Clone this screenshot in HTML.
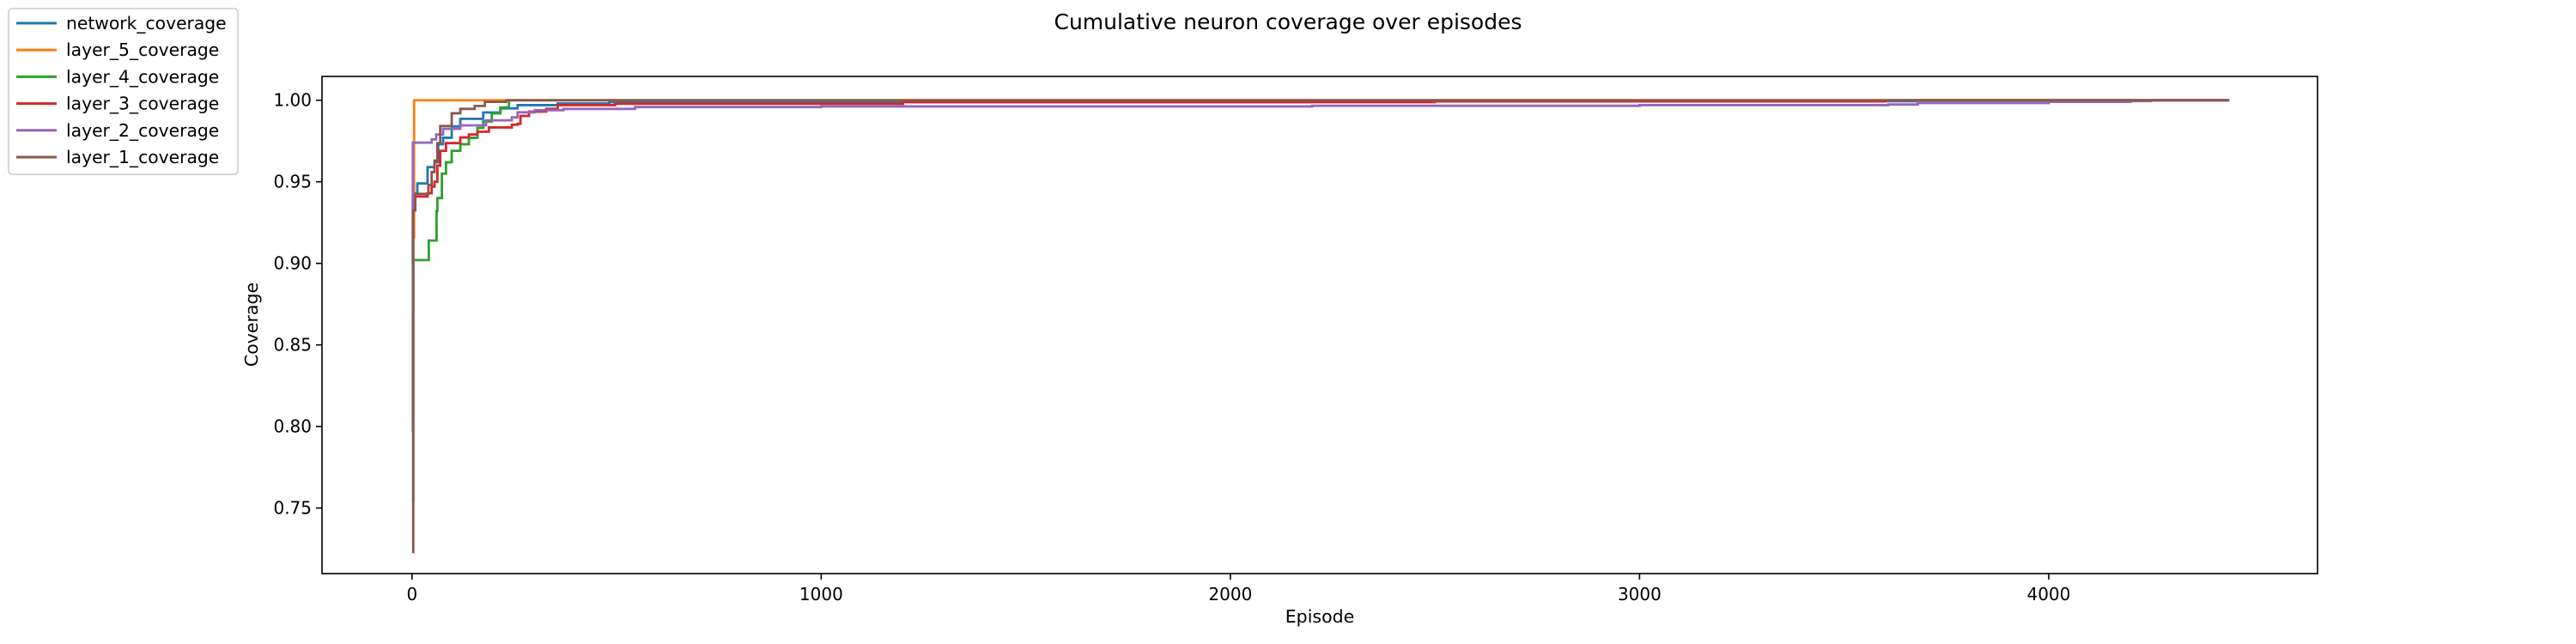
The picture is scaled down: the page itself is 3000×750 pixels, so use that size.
<!DOCTYPE html>
<html><head><meta charset="utf-8"><style>
html,body{margin:0;padding:0;background:#fff;}
svg{display:block;font-family:"DejaVu Sans","Liberation Sans",sans-serif;}
</style></head><body>
<svg id="chart" width="3000" height="750" viewBox="0 0 3000 750">
<text x="1500" y="34" font-size="25" text-anchor="middle">Cumulative neuron coverage over episodes</text>
<g id="plot"></g>
<g id="axes"></g>
<text x="1537" y="725" font-size="20.5" text-anchor="middle">Episode</text>
<text transform="translate(300,378) rotate(-90)" font-size="20.5" text-anchor="middle">Coverage</text>
<g id="legend"></g>
</svg>
<script>
const seriesNames = ["network_coverage","layer_5_coverage","layer_4_coverage","layer_3_coverage","layer_2_coverage","layer_1_coverage"];
const seriesColors = ["#1f77b4","#ff7f0e","#2ca02c","#d62728","#9467bd","#8c564b"];
const xTicks = [0,1000,2000,3000,4000];
const yTicks = [0.75,0.80,0.85,0.90,0.95,1.00];
const yTickLabels = ["0.75","0.80","0.85","0.90","0.95","1.00"];
const networkX = [0,3,13,38,55,64,76,97,118,174,216,258,356,482,1200,2400,3676,4441];
const networkY = [0.755,0.943,0.949,0.959,0.962,0.973,0.977,0.984,0.9886,0.9925,0.9950,0.9970,0.9980,0.9988,0.9992,0.9994,1.0,1.0];
const layer5X = [0,5,4441];
const layer5Y = [0.916,1.0,1.0];
const layer4X = [0,3,41,60,62,73,83,97,118,139,160,174,195,216,237,4441];
const layer4Y = [0.870,0.902,0.914,0.932,0.940,0.955,0.962,0.969,0.973,0.977,0.983,0.987,0.992,0.9956,1.0,1.0];
const layer3X = [0,2,38,48,55,62,69,83,118,139,160,188,244,258,265,286,328,356,496,1200,2500,3600,4441];
const layer3Y = [0.900,0.941,0.943,0.947,0.950,0.960,0.969,0.9737,0.9772,0.979,0.9807,0.9833,0.985,0.9855,0.9904,0.993,0.9947,0.9970,0.9978,0.9988,0.9993,1.0,1.0];
const layer2X = [0,2,48,59,76,118,181,244,258,300,370,545,1000,2200,3000,3608,3680,4000,4200,4250,4441];
const layer2Y = [0.797,0.974,0.976,0.979,0.9825,0.9846,0.9877,0.9895,0.9926,0.9939,0.9947,0.9958,0.9962,0.9966,0.9970,0.9974,0.9983,0.9990,0.9995,1.0,1.0];
const layer1X = [0,3,8,38,40,48,55,62,69,97,118,153,178,230,4441];
const layer1Y = [0.723,0.9325,0.9426,0.9426,0.948,0.956,0.963,0.9737,0.9842,0.992,0.9947,0.9965,0.999,1.0,1.0];
const seriesX = [networkX,layer5X,layer4X,layer3X,layer2X,layer1X];
const seriesY = [networkY,layer5Y,layer4Y,layer3Y,layer2Y,layer1Y];

const L=375,R=2699,T=89,B=668;
const xMin=-220,xMax=4657,yMin=0.7098,yMax=1.0146;
function sx(v){return L+(v-xMin)/(xMax-xMin)*(R-L);}
function sy(v){return B-(v-yMin)/(yMax-yMin)*(B-T);}
const NS="http://www.w3.org/2000/svg";
function mk(tag,attrs,parent){const e=document.createElementNS(NS,tag);for(const k in attrs)e.setAttribute(k,attrs[k]);parent.appendChild(e);return e;}

const plot=document.getElementById('plot');
const axes=document.getElementById('axes');
for(let s=0;s<seriesNames.length;s++){
  const xs=seriesX[s],ys=seriesY[s];
  let d="M"+sx(xs[0]).toFixed(2)+" "+sy(ys[0]).toFixed(2);
  for(let i=1;i<xs.length;i++){d+=" H"+sx(xs[i]).toFixed(2)+" V"+sy(ys[i]).toFixed(2);}
  const p=mk('path',{d:d,fill:"none",stroke:seriesColors[s],"stroke-width":"2.8","stroke-linejoin":"miter"},plot);
  
  
}
const frame=mk('rect',{x:L,y:T,width:R-L,height:B-T,fill:"none",stroke:"#000","stroke-width":"1.6"},axes);


for(let i=0;i<xTicks.length;i++){
  const x=sx(xTicks[i]);
  const t=mk('line',{x1:x,x2:x,y1:B,y2:B+7,stroke:"#000","stroke-width":"1.6"},axes);
  
  
  const lb=mk('text',{x:x,y:B+31,"font-size":"20","text-anchor":"middle"},axes);
  lb.textContent=String(xTicks[i]);
  
  
}
for(let i=0;i<yTicks.length;i++){
  const y=sy(yTicks[i]);
  const t=mk('line',{x1:L-7,x2:L,y1:y,y2:y,stroke:"#000","stroke-width":"1.6"},axes);
  
  
  const lb=mk('text',{x:L-12,y:y+7,"font-size":"20","text-anchor":"end"},axes);
  lb.textContent=yTickLabels[i];
  
  
}
const lg=document.getElementById('legend');
const box=mk('rect',{x:10,y:10,width:267,height:193,rx:4,fill:"#fff","fill-opacity":"0.8",stroke:"#ccc","stroke-width":"1.5"},lg);


for(let s=0;s<seriesNames.length;s++){
  const y=27+s*31.2;
  const ln=mk('line',{x1:19,x2:66,y1:y,y2:y,stroke:seriesColors[s],"stroke-width":"3"},lg);
  
  
  const tx=mk('text',{x:77,y:y+7,"font-size":"20.3"},lg);
  tx.textContent=seriesNames[s];
  
  
}
</script>
</body></html>
